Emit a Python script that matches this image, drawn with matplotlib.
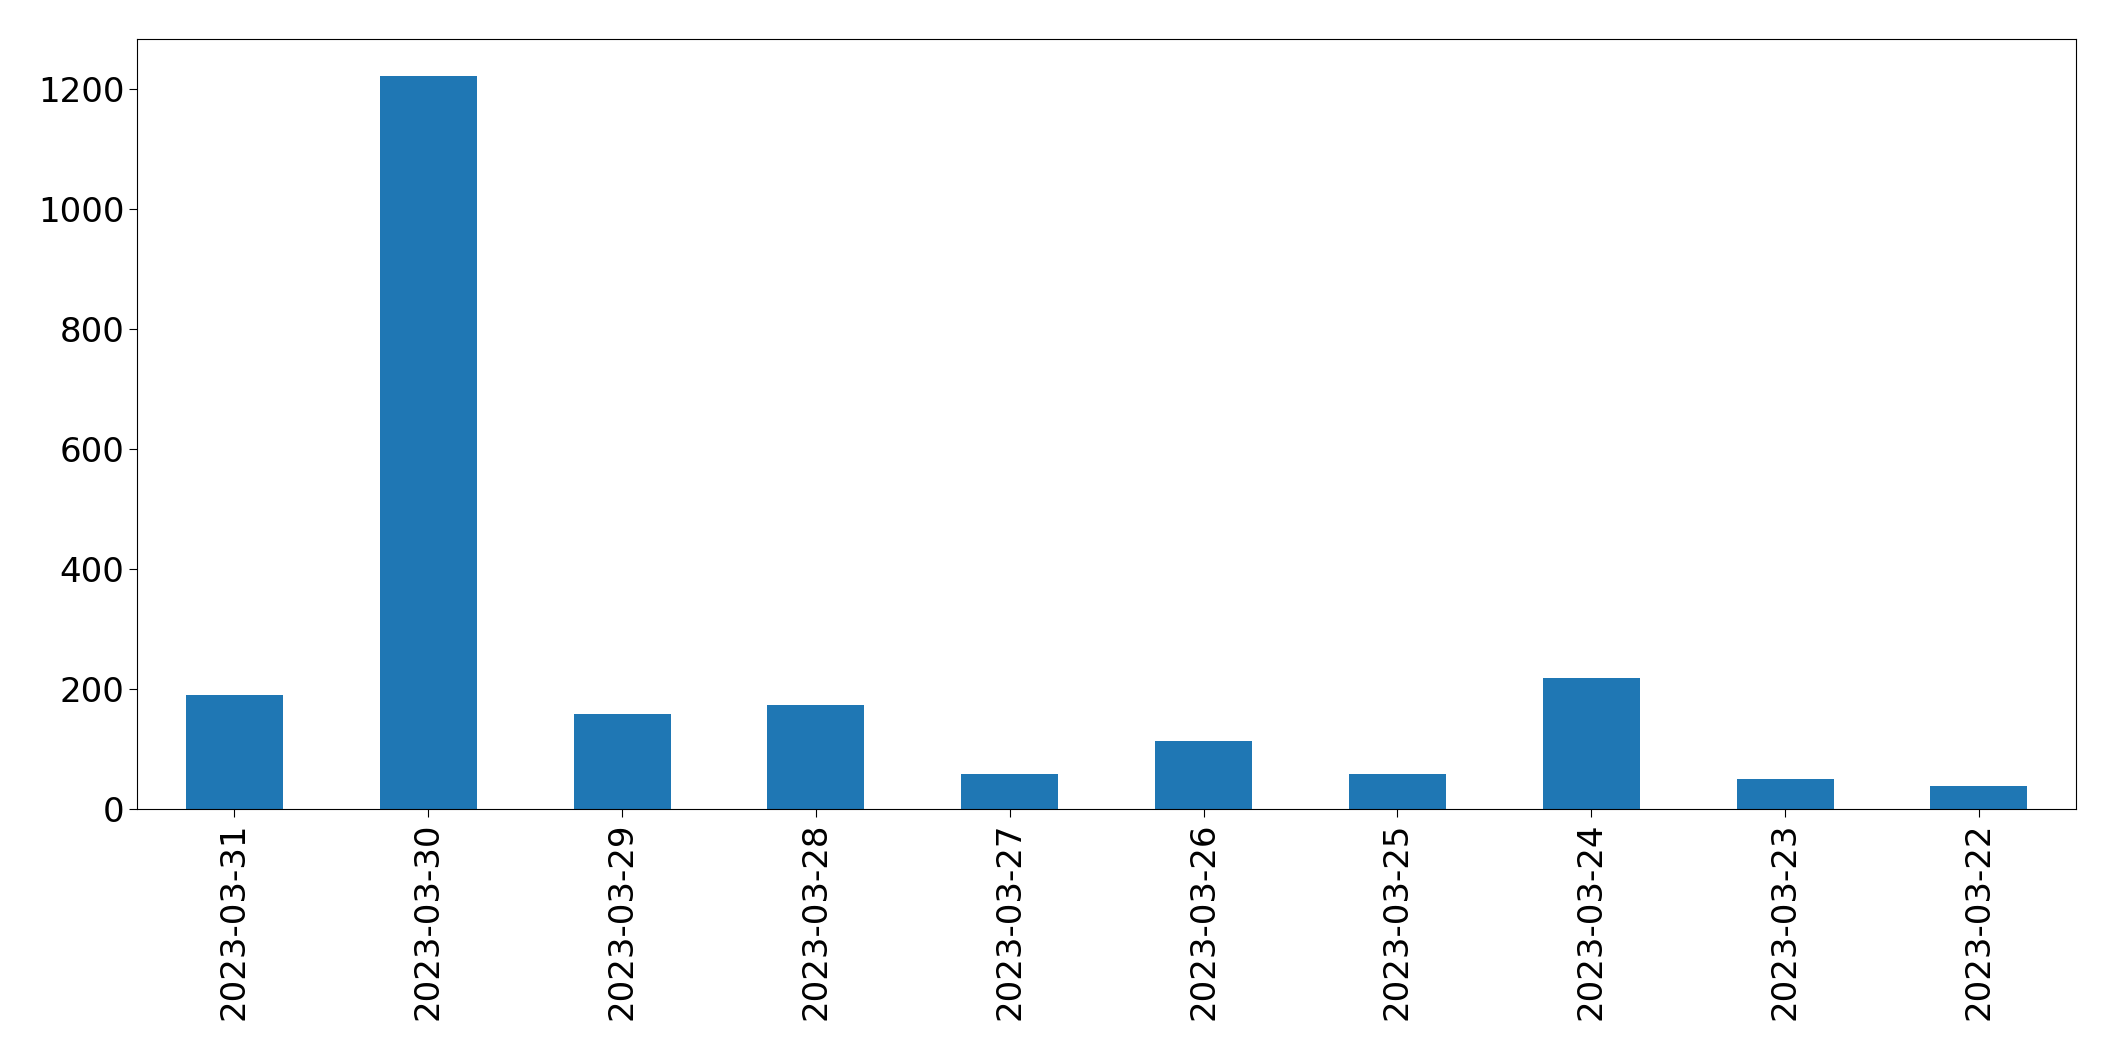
import matplotlib.pyplot as plt

dates = ['2023-03-31', '2023-03-30', '2023-03-29', '2023-03-28', '2023-03-27',
         '2023-03-26', '2023-03-25', '2023-03-24', '2023-03-23', '2023-03-22']
counts = [191, 1222, 159, 174, 59, 114, 59, 219, 50, 39]

fig = plt.figure(figsize=(21.15, 10.61), dpi=100)
ax = fig.add_axes([0.065, 0.2372, 0.9165, 0.726])

x = range(len(dates))
ax.bar(x, counts, width=0.5, color='#1f77b4')
ax.set_xlim(-0.5, len(dates) - 0.5)
ax.set_ylim(0, 1284)
ax.set_xticks(list(x))
ax.set_xticklabels(dates, rotation=90)
ax.tick_params(labelsize=24.5, length=6)

fig.savefig('out.png', dpi=100)
